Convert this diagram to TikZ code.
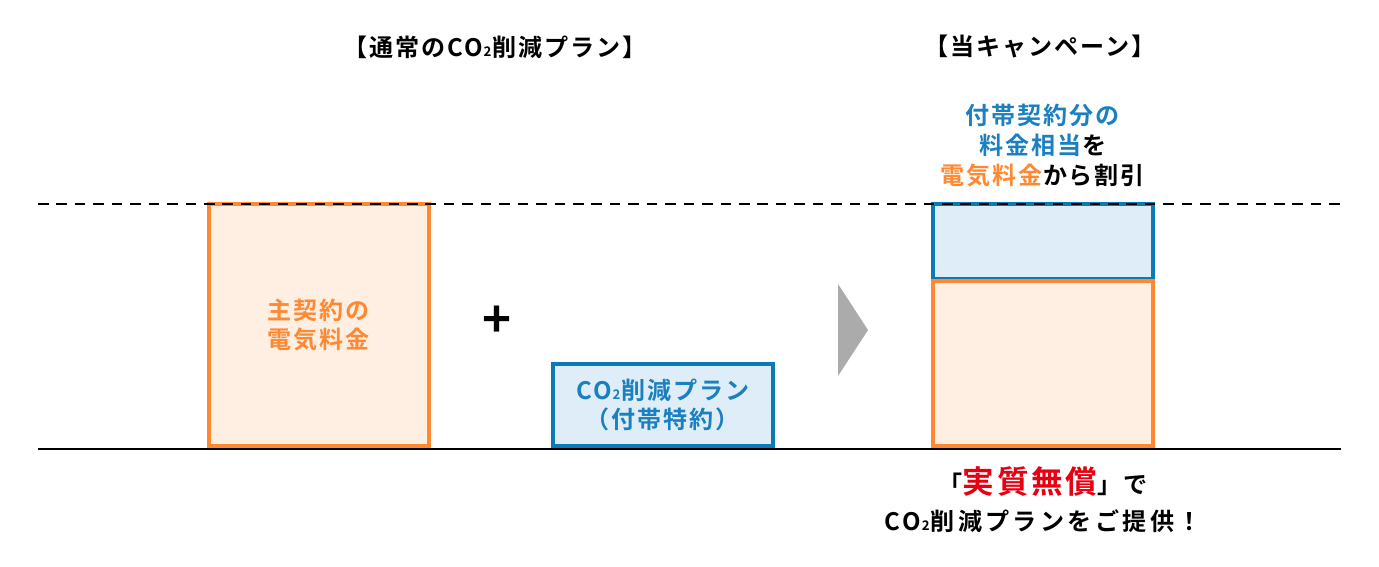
\documentclass[tikz,border=0pt]{standalone}
\usepackage{fontspec}
\setmainfont{Noto Sans CJK JP}[BoldFont={Noto Sans CJK JP Bold}, LetterSpace=8]
\usepackage{tikz}
\usetikzlibrary{positioning, calc}
\definecolor{plan-orange}{RGB}{255,136,51}
\definecolor{plan-peach}{RGB}{255,238,226}
\definecolor{plan-blue}{RGB}{11,123,184}
\definecolor{plan-sky}{RGB}{222,237,247}
\definecolor{plan-text}{RGB}{26,128,192}
\definecolor{plan-red}{RGB}{230,0,18}
\definecolor{plan-gray}{RGB}{171,171,171}
\newcommand{\cotwo}{CO\kern0.5pt\scalebox{0.55}{2}\kern0.5pt}

\begin{document}
\begin{tikzpicture}[
    x=0.02cm, y=-0.02cm,
    every node/.style={font=\bfseries\fontsize{13.7}{17}\selectfont, inner sep=0pt},
    mainbox/.style={rectangle, draw=plan-orange, fill=plan-peach, line width=0.08cm, minimum width=4.4cm, text=plan-orange, align=center},
    subbox/.style={rectangle, draw=plan-blue, fill=plan-sky, line width=0.08cm, minimum width=4.4cm, text=plan-text, align=center},
    heading/.style={text=black}
]
    \useasboundingbox (0,0) rectangle (1379,567);

    % Linien
    \coordinate (base-l) at (38,449);
    \coordinate (base-r) at (1341,449);
    \coordinate (top-l) at (38,204);
    \coordinate (top-r) at (1341,204);
    \draw[line width=1.3pt] (base-l) -- (base-r);

    % Überschriften
    \node[heading] (h1) at (495,47) {【通常の\cotwo 削減プラン】};
    \node[heading] (h2) at (1040,47) {【当キャンペーン】};

    % Normaler Plan
    \node[mainbox, minimum height=4.84cm] (main) at (319,325) {主契約の\\電気料金};
    \node (plus) at (497,322) {\fontsize{28}{28}\selectfont +};
    \node[subbox, minimum height=1.64cm] (co2) at (663,405) {\cotwo 削減プラン\\（付帯特約）};

    % Pfeil
    \fill[plan-gray] (838,284) -- (868,330) -- (838,376) -- cycle;

    % Kampagne
    \node[subbox, minimum height=1.5cm] (extra) at (1043,241.5) {};
    \node[mainbox, minimum height=3.3cm] (elec) at (1043,363.5) {};

    \draw[dashed, dash pattern=on 6pt off 4.5pt, line width=1pt] (top-l) -- (top-r);

    \node[align=center, above=0.3cm of extra] (note) {\textcolor{plan-text}{付帯契約分の}\\\textcolor{plan-text}{料金相当}を\\\textcolor{plan-orange}{電気料金}から割引};
    \node[below=0.36cm of elec] (free) {「\textcolor{plan-red}{\fontsize{18}{18}\selectfont 実質無償}」で};
    \node[below=0.26cm of free] (offer) {\addfontfeature{LetterSpace=14}\cotwo 削減プランをご提供！};
\end{tikzpicture}
\end{document}
